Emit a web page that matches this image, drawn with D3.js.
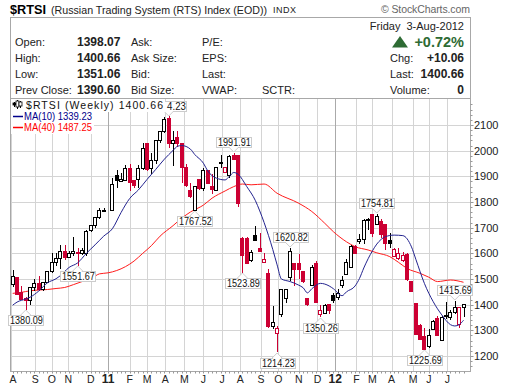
<!DOCTYPE html>
<html><head><meta charset="utf-8">
<script src="https://cdnjs.cloudflare.com/ajax/libs/d3/7.8.5/d3.min.js"></script>
<style>html,body{margin:0;background:#fff}svg{display:block}text{font-family:"Liberation Sans",Arial,sans-serif}</style>
</head><body><div id="c"></div>
<script>
const opens=[1480,1508,1448,1426,1417,1469,1484,1461,1490,1530,1565,1582,1610,1584,1600,1606,1600,1601,1690,1710,1743,1767,null,1769,1904,1882,1884,1931,1884,1891,1934,2028,1931,1962,2041,2077,2128,2031,2055,2028,1936,1848,1768,1888,1853,1926,1862,1847,1956,1917,1906,1982,1985,1658,1660,1574,1671,1620,1566,1525,1318,1291,1362,1427,1508,1564,1564,1531,1427,1475,1561,1365,1369,1401,1436,1430,1477,1521,1548,1628,1648,1655,1730,1752,1715,1726,1713,1652,1590,1583,1573,1596,1492,1405,1321,1278,1239,1306,1349,1262,1356,1352,1371,1326,1392];
const highs=[1536,1508,1471,1430,1469,1500,1513,1490,1530,1600,1601,1634,1634,1610,1665,1620,1620,1690,1710,1743,1775,1778,null,1892,1923,1914,1944,1947,1884,1944,2031,2031,1992,2041,2077,2130,2134.23,2077,2077,2031,1949,1875,1862,1888,1934,1926,1908,1938,1983,1938,1985,1991.91,1985,1664,1664,1612,1706,1680,1600,1538,1395,1317,1460,1462,1620.82,1564,1596,1531,1427,1555,1570,1397,1403,1401,1447,1460,1512,1577,1632,1632,1674,1732,1737,1755,1754.81,1732,1716,1680,1620,1620,1605,1600,1492,1405,1325,1310,1306,1339,1356,1356,1412,1380,1415.69,1392,1400.66];
const lows=[1470,1443,1420,1380.09,1400,1452,1452,1455,1484,1523,1549,1539,1573,1584,1590,1551.67,1595,1590,1685,1700,1735,1760,null,1769,1856,1879,1880,1843,1856,1856,1923,1920,1908,1950,2030,2070,2009,1940,2015,1873,1860,1817,1767.52,1845,1843,1870,1830,1847,1931,1917,1893,1964,1780,1523.89,1563,1566,1648,1609,1561,1308,1304,1214.23,1352,1405,1492,1473,1499,1486,1395,1475,1405,1350.26,1365,1362,1408,1417,1466,1516,1548,1600,1635,1635,1690,1664,1710,1660,1612,1622,1590,1575,1568,1492,1453,1284,1262,1225.69,1230,1300,1281,1262,1343,1339,1365,1308,1351];
const closes=[1510,1443,1422,1417,1469,1483,1461,1490,1530,1565,1582,1610,1584,1600,1611,1600,1613,1687,1710,1743,1767,1770,null,1871,1886,1888,1931,1879,1865,1934,2012,1927,1962,2041,2077,2125,2031,2040,2029,1936,1866,1823,1862,1856,1926,1875,1849,1938,1953,1938,1978,1966,1797,1594,1563,1606,1652,1609,1579,1317,1334,1310,1460,1462,1609,1540,1538,1492,1401,1548,1410,1379,1399,1379,1418,1447,1495,1568,1628,1603,1655,1729,1735,1680,1745,1677,1640,1642,1615,1603,1594,1499,1453,1284,1268,1226,1282,1336,1281,1352,1359,1371,1392,1391,1400.66];

const ma10Weeks=[0,1,3,4,6,8,10,11,13,15,17,19,21,23,25,27,29,31,33,35,37,38,39,41,42,44,45,47,49,50,51,52,54,56,57,58,60,61,62,64,66,67,68,69,71,73,74,76,77,79,80,81,83,84,86,88,90,92,93,95,97,99,101,102,103,104];
const ma10=[1398,1410,1422,1429,1453,1485,1501,1513,1545,1563,1600,1633,1667,1696,1759,1814,1847,1888,1927,1967,2001,2017,2020,2006,1985,1951,1921,1893,1886,1900,1915,1908,1860,1805,1765,1720,1615,1555,1500,1490,1476,1466,1446,1462,1483,1473,1462,1435,1450,1473,1502,1543,1610,1636,1665,1671,1669,1625,1577,1482,1412,1360,1322,1317,1322,1339.23];
const ma40Weeks=[0,2,4,6,8,10,12,14,16,18,20,22,24,26,28,30,32,34,37,39,41,44,46,49,51,53,55,58,61,66,69,72,74,77,79,82,84,87,89,91,94,96,98,101,104];
const ma40=[1444,1448,1454,1457,1459,1463,1467,1478,1490,1500,1520,1524,1533,1548,1570,1600,1630,1667,1708,1737,1761,1788,1815,1843,1860,1870,1867,1870,1834,1795,1763,1717,1684,1645,1626,1613,1602,1587,1565,1541,1522,1507,1490,1496,1487.25];

const yTicks=[1200,1300,1400,1500,1600,1700,1800,1900,2000,2100];
const monthLabels=["A","S","O","N","D","11","F","M","A","M","J","J","A","S","O","N","D","12","F","M","A","M","J","J"];
const monthWeeks=[-0.4,5.2,9,12.8,18,22,27,31,35.2,39.6,44,48.3,52.5,57.3,61.3,66,70.3,74.4,79.3,83,87.4,92.4,96,100.3];
const annotWeeks=[3,15,36,42,51,53,61,64,71,84,95,102];
const annotKinds=["low","low","high","low","high","low","low","high","low","high","low","high"];
const annotVals=[1380.09,1551.67,2134.23,1767.52,1991.91,1523.89,1214.23,1620.82,1350.26,1754.81,1225.69,1415.69];
const annotTexts=["1380.09","1551.67","4.23","1767.52","1991.91","1523.89","1214.23","1620.82","1350.26","1754.81","1225.69","1415.69"];

const infoRows=[["Open:","1398.07","Ask:","P/E:"],["High:","1400.66","Ask Size:","EPS:"],["Low:","1351.06","Bid:","Last:"],["Prev Close:","1390.60","Bid Size:","VWAP:"]];
const rightRows=[["Chg:","+10.06"],["Last:","1400.66"],["Volume:","0"]];

const W=505,H=387;
const svg=d3.select("#c").append("svg").attr("width",W).attr("height",H);
const x=d3.scaleLinear().domain([0,104]).range([12.7,463.5]);
const y=d3.scaleLinear().domain([1200,2100]).range([356,125]);
const L=10.5,R=470.5,T=98.5,B=371.5;
const GRID="#d4d4d4",FRAME="#a8a8a8",RED="#cc0033",NAVY="#23238f",MAR="#ff1c1c",MONO='"DejaVu Sans Mono",monospace';
const sharp=v=>Math.round(v)+0.5;

// header
svg.append("text").attr("x",10).attr("y",14).attr("font-size",13).attr("font-weight","bold").attr("textLength",36).attr("lengthAdjust","spacingAndGlyphs").text("$RTSI");
svg.append("text").attr("x",51).attr("y",14).attr("font-size",11).attr("fill","#222").attr("textLength",216).attr("lengthAdjust","spacingAndGlyphs").text("(Russian Trading System (RTS) Index (EOD))");
svg.append("text").attr("x",273).attr("y",13).attr("font-size",9).attr("letter-spacing",0.5).attr("fill","#222").text("INDX");
svg.append("text").attr("x",381).attr("y",13).attr("font-size",10.5).attr("textLength",89).attr("lengthAdjust","spacing").attr("fill","#666").text("\u00a9 StockCharts.com");

const info=svg.append("g");
info.append("rect").attr("x",L).attr("y",17.5).attr("width",R-L).attr("height",81).attr("fill","#fff").attr("stroke",FRAME);
const rowY=[46,62,78,94];
infoRows.forEach((r,i)=>{
  info.append("text").attr("x",15).attr("y",rowY[i]).attr("font-size",11).attr("fill","#222").text(r[0]);
  info.append("text").attr("x",77).attr("y",rowY[i]).attr("font-size",12).attr("font-weight","bold").attr("fill","#222").text(r[1]);
  info.append("text").attr("x",131).attr("y",rowY[i]).attr("font-size",11).attr("fill","#222").text(r[2]);
  info.append("text").attr("x",202).attr("y",rowY[i]).attr("font-size",11).attr("fill","#222").text(r[3]);
});
info.append("text").attr("x",262).attr("y",94).attr("font-size",11).attr("fill","#222").text("SCTR:");
info.append("text").attr("x",464).attr("y",30).attr("text-anchor","end").attr("font-size",11).attr("fill","#222").style("white-space","pre").text("Friday  3-Aug-2012");
info.append("path").attr("d","M392 47.5L400 36L408 47.5Z").attr("fill","#2e6b34");
info.append("text").attr("x",464).attr("y",47).attr("text-anchor","end").attr("font-size",14.5).attr("font-weight","bold").attr("fill","#2e6b34").text("+0.72%");
rightRows.forEach((r,i)=>{
  info.append("text").attr("x",390).attr("y",rowY[i+1]).attr("font-size",11).attr("fill","#222").text(r[0]);
  info.append("text").attr("x",464).attr("y",rowY[i+1]).attr("text-anchor","end").attr("font-size",12).attr("font-weight","bold").attr("fill","#222").text(r[1]);
});

// plot grid
const grid=svg.append("g");
grid.selectAll("line.h").data(yTicks).join("line").attr("x1",L).attr("x2",R).attr("y1",d=>sharp(y(d))).attr("y2",d=>sharp(y(d))).attr("stroke",GRID);
grid.selectAll("line.v").data(monthWeeks).join("line").attr("y1",T).attr("y2",B)
  .attr("x1",d=>sharp(x(d))).attr("x2",d=>sharp(x(d)))
  .attr("stroke",(d,i)=>monthLabels[i].length>1?"#aaa":GRID);
svg.append("rect").attr("x",L).attr("y",T).attr("width",R-L).attr("height",B-T).attr("fill","none").attr("stroke",FRAME);

// axis ticks and labels
const yAxis=d3.axisRight(y).tickValues(yTicks).tickSize(0).tickPadding(3.5).tickFormat(d3.format("d"));
const ya=svg.append("g").attr("transform",`translate(${R},0)`).call(yAxis);
ya.select(".domain").remove();
ya.selectAll("text").attr("font-size",11).attr("font-family",'"Liberation Sans",Arial,sans-serif').attr("fill","#222");
const minor=d3.range(1160,2200,20);
svg.append("g").selectAll("line").data(minor).join("line").attr("x1",R).attr("x2",d=>d%100===0?R+3:R+2).attr("y1",d=>sharp(y(d))).attr("y2",d=>sharp(y(d))).attr("stroke","#999");
svg.append("g").selectAll("line").data(d3.range(0,105)).join("line").attr("x1",d=>sharp(x(d))).attr("x2",d=>sharp(x(d))).attr("y1",B).attr("y2",B+2).attr("stroke","#999");
svg.append("g").selectAll("text").data(monthLabels).join("text")
  .attr("x",(d,i)=>x(monthWeeks[i])+(i===0?2:0)).attr("y",383).attr("text-anchor","middle")
  .attr("font-size",d=>d.length>1?12:10.5).attr("font-weight",d=>d.length>1?"bold":"normal").attr("fill","#222").text(d=>d);

// lines
const lineFn=d3.line().curve(d3.curveMonotoneX);
const ma40Pts=ma40Weeks.map((w,i)=>[x(w),y(ma40[i])]);
const ma10Pts=ma10Weeks.map((w,i)=>[x(w),y(ma10[i])]);
svg.append("path").attr("d",lineFn(ma40Pts)).attr("fill","none").attr("stroke",MAR).attr("stroke-width",1);

// candles
const weeks=d3.range(opens.length).filter(i=>opens[i]!==null);
const prev=i=>{let j=i-1;while(j>=0&&closes[j]===null)j--;return j>=0?closes[j]:opens[i];};
const colorOf=i=>closes[i]<prev(i)?RED:"#000";
const cg=svg.append("g").attr("shape-rendering","crispEdges");
cg.selectAll("line").data(weeks).join("line").attr("x1",i=>Math.round(x(i))+0.5).attr("x2",i=>Math.round(x(i))+0.5)
  .attr("y1",i=>Math.round(y(highs[i]))).attr("y2",i=>Math.round(y(lows[i]))).attr("stroke",colorOf);
cg.selectAll("rect").data(weeks).join("rect")
  .attr("x",i=>Math.round(x(i))-1.5).attr("width",3)
  .attr("y",i=>Math.round(y(Math.max(opens[i],closes[i])))+0.5)
  .attr("height",i=>Math.max(1,Math.round(y(Math.min(opens[i],closes[i])))-Math.round(y(Math.max(opens[i],closes[i])))))
  .attr("fill",i=>closes[i]>=opens[i]?"#fff":colorOf(i)).attr("stroke",colorOf);

svg.append("path").attr("d",lineFn(ma10Pts)).attr("fill","none").attr("stroke",NAVY).attr("stroke-width",1);

// annotations
const BW=35,BH=10;
const ann=svg.append("g");
annotWeeks.forEach((w,i)=>{
  const cx=x(w),cy=y(annotVals[i]),low=annotKinds[i]==="low";
  const by=low?Math.round(cy+5.5):Math.round(cy-5.5-BH);
  const bx=Math.round(cx-BW/2);
  const ey=low?by:by+BH;
  ann.append("path").attr("d",`M${cx-5} ${ey}L${cx} ${low?ey-5:ey+5}L${cx+5} ${ey}`).attr("fill","#fff").attr("stroke","#ccc");
  ann.append("rect").attr("x",bx+.5).attr("y",by+.5).attr("width",BW).attr("height",BH).attr("fill","#fff").attr("stroke","#ccc");
  ann.append("path").attr("d",`M${cx-4} ${ey+.5}H${cx+4}`).attr("stroke","#fff");
  const t=annotTexts[i];
  ann.append("text").attr("x",bx+2+(7-t.length)*4.7).attr("y",by+9).attr("font-family",MONO).attr("font-size",10.5)
    .attr("textLength",t.length*4.7).attr("lengthAdjust","spacingAndGlyphs").attr("fill","#111").text(t);
});

// legend
const lg=svg.append("g");
lg.append("rect").attr("x",11).attr("y",99).attr("width",154).attr("height",13).attr("fill","#fff");
lg.append("rect").attr("x",11).attr("y",112).attr("width",83).attr("height",22).attr("fill","#fff");
[[14,102,107],[17,100,109],[20,101,108]].forEach(c=>{
  lg.append("line").attr("x1",c[0]+.5).attr("x2",c[0]+.5).attr("y1",c[1]).attr("y2",c[2]).attr("stroke","#000");
  lg.append("rect").attr("x",c[0]-1).attr("y",c[1]+1).attr("width",3).attr("height",c[2]-c[1]-3).attr("fill",c[0]===14?"#000":"#fff").attr("stroke","#000").attr("stroke-width",.8);
});
lg.append("text").attr("x",26).attr("y",109).attr("font-family",MONO).attr("font-size",10.5).attr("textLength",137).attr("lengthAdjust","spacing").attr("fill","#111").text("$RTSI (Weekly) 1400.66");
lg.append("line").attr("x1",13).attr("x2",23).attr("y1",116.5).attr("y2",116.5).attr("stroke","#00008b").attr("stroke-width",1.5);
lg.append("text").attr("x",24).attr("y",120).attr("font-family",MONO).attr("font-size",10.5).attr("textLength",68).attr("lengthAdjust","spacingAndGlyphs").attr("fill","#00008b").text("MA(10) 1339.23");
lg.append("line").attr("x1",13).attr("x2",23).attr("y1",127.5).attr("y2",127.5).attr("stroke","#f00").attr("stroke-width",1.5);
lg.append("text").attr("x",24).attr("y",131).attr("font-family",MONO).attr("font-size",10.5).attr("textLength",68).attr("lengthAdjust","spacingAndGlyphs").attr("fill","#f00").text("MA(40) 1487.25");
</script></body></html>
